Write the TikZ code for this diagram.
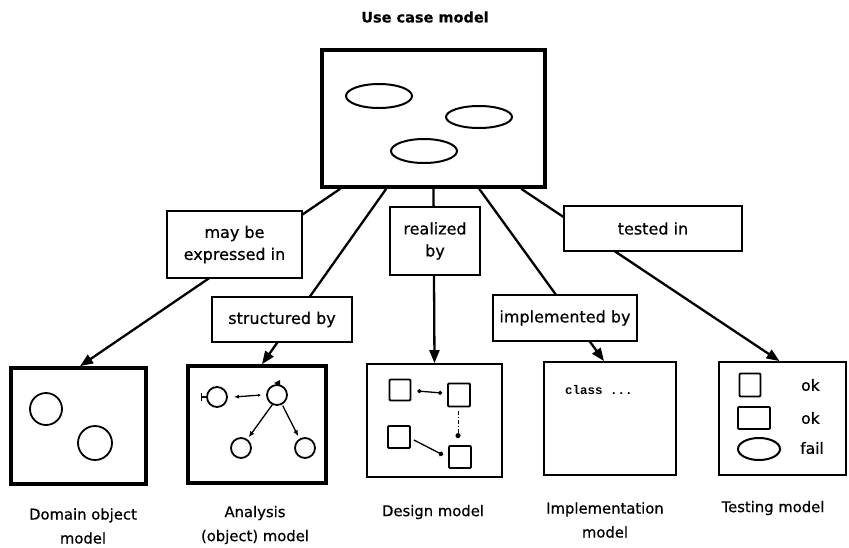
\documentclass[tikz,border=0pt]{standalone}
\usepackage{fontspec}
\setmainfont{DejaVu Sans}[FakeBold=0.6]
\setmonofont{Liberation Mono}
\usetikzlibrary{arrows.meta,calc,shapes.geometric}

\tikzset{
  bigbox/.style={draw, rectangle, line width=3.6pt, inner sep=0pt},
  thinbox/.style={draw, rectangle, line width=1.8pt, inner sep=0pt},
  lbl/.style={draw, rectangle, line width=1.8pt, fill=white, inner sep=0pt,
    align=center, font=\fontsize{16}{22}\selectfont},
  capt/.style={align=center, inner sep=0pt, font=\fontsize{14.8}{24}\selectfont},
  conn/.style={line width=2.3pt},
  arrowed/.style={conn, -{Triangle[length=13pt,width=10pt]}},
  oval/.style={draw, ellipse, line width=2pt, inner sep=0pt},
  circ/.style={draw, circle, line width=1.8pt, inner sep=0pt},
  sq/.style={draw, rectangle, rounded corners=1pt, line width=1.8pt, inner sep=0pt},
  thin/.style={line width=1.3pt},
  res/.style={font=\fontsize{15.5}{17}\selectfont, anchor=west, inner sep=0pt}
}

\begin{document}
\begin{tikzpicture}[x=1pt,y=-1pt]
\useasboundingbox (0,0) rectangle (849,547);

% title
\node[font=\bfseries\fontsize{14.5}{16}\selectfont, inner sep=0pt] (title) at (425,17) {Use case model};

% use case model box with three use cases
\node[bigbox, minimum width=223pt, minimum height=137pt] (uc) at (433.5,118.5) {};
\node[oval, minimum width=66pt, minimum height=24pt] (u1) at (379,96) {};
\node[oval, minimum width=66pt, minimum height=22pt] (u2) at (479,117) {};
\node[oval, minimum width=66pt, minimum height=24pt] (u3) at (424,151) {};

% the five models
\node[bigbox, minimum width=135pt, minimum height=116pt] (dm) at (78.5,426) {};
\node[bigbox, minimum width=138pt, minimum height=117pt] (an) at (257,424.5) {};
\node[thinbox, minimum width=135pt, minimum height=113pt] (ds) at (434.5,420.5) {};
\node[thinbox, minimum width=132pt, minimum height=113pt] (im) at (610,418.5) {};
\node[thinbox, minimum width=127pt, minimum height=113pt] (ts) at (782.5,418.5) {};

% domain objects
\node[circ, minimum size=32pt] (d1) at (46,409) {};
\node[circ, minimum size=34pt] (d2) at (95,443) {};

% analysis objects
\node[circ, minimum size=20pt] (a1) at (217,397) {};
\node[circ, minimum size=20pt] (a2) at (277,395) {};
\node[circ, minimum size=20pt] (a3) at (241,448) {};
\node[circ, minimum size=20pt] (a4) at (305,448) {};
\draw[thin, -{Bar[width=8pt]}] (a1.west) -- ++(-5,0);
\draw[thin, {Latex[length=5pt,width=4pt]}-{Latex[length=3pt,width=3pt]}] ($(a1.east)+(6,0)$) -- ($(a2.west)+(-5,0)$);
\draw[thin, -{Latex[length=6pt,width=5pt]}] ($(a2.south west)+(3,2)$) -- ($(a3.north east)+(0,-3)$);
\draw[thin, -{Latex[length=6pt,width=5pt]}] ($(a2.south east)+(-2,3)$) -- ($(a4.north west)+(1,-4)$);
\fill ($(a2.north)+(-3,-1)$) -- ++(6,-3) -- ++(0,5) -- cycle;

% design classes
\node[sq, minimum width=21pt, minimum height=21pt] (s1) at (400,390) {};
\node[sq, minimum width=22pt, minimum height=23pt] (s2) at (459,395) {};
\node[sq, minimum width=22pt, minimum height=22pt] (s3) at (399,437) {};
\node[sq, minimum width=22pt, minimum height=22pt] (s4) at (460,457) {};
\draw[thin, {Circle[length=4pt]}-{Circle[length=4pt]}] ($(s1.east)+(6,1)$) -- ($(s2.west)+(-5,-2)$);
\draw[line width=1pt, dash pattern=on 4pt off 2pt on 1pt off 2pt, -{Circle[length=5pt]}] ($(s2.south)+(-1,4)$) -- ($(s4.north)+(-2,-7)$);
\draw[thin, -{Circle[length=5pt]}] ($(s3.east)+(3,3)$) -- ($(s4.west)+(-5,-2)$);

% implementation code
\node[font=\ttfamily\bfseries\fontsize{12.5}{14}\selectfont, anchor=west, inner sep=0pt] (code) at (565,390) {class ...};

% test cases
\node[sq, minimum width=21pt, minimum height=23pt] (t1) at (750,385) {};
\node[sq, minimum width=32pt, minimum height=22pt] (t2) at (754,418) {};
\node[oval, minimum width=42pt, minimum height=22pt] (t3) at (759,449) {};
\node[res] (r1) at (801,385) {ok};
\node[res] (r2) at (801,418) {ok};
\node[res] (r3) at (800,448) {fail};

% relations from the use case model
\draw[arrowed] ([xshift=20pt]uc.south west) -- ([xshift=1.5pt]dm.north);
\draw[arrowed] ([xshift=66pt]uc.south west) -- ([xshift=5pt]an.north);
\draw[arrowed] (uc.south) -- (ds.north);
\draw[arrowed] ([xshift=159pt]uc.south west) -- ([xshift=-6pt]im.north);
\draw[arrowed] ([xshift=201pt]uc.south west) -- ([xshift=-3pt]ts.north);

% relation labels
\node[lbl, minimum width=135pt, minimum height=67pt] (l1) at (234.5,244.5) {may be\\expressed in};
\node[lbl, minimum width=140pt, minimum height=45pt] (l2) at (282,319.5) {structured by};
\node[lbl, minimum width=90pt, minimum height=68pt] (l3) at (435,241) {realized\\by};
\node[lbl, minimum width=144pt, minimum height=46pt] (l4) at (565,318) {implemented by};
\node[lbl, minimum width=178pt, minimum height=45pt] (l5) at (653,228.5) {tested in};

% model captions
\node[capt] (c1) at (83,526) {Domain object\\model};
\node[capt] (c2) at (255,525) {Analysis\\(object) model};
\node[capt] (c3) at (433,512) {Design model};
\node[capt] (c4) at (605,520) {Implementation\\model};
\node[capt] (c5) at (773,508) {Testing model};
\end{tikzpicture}
\end{document}
